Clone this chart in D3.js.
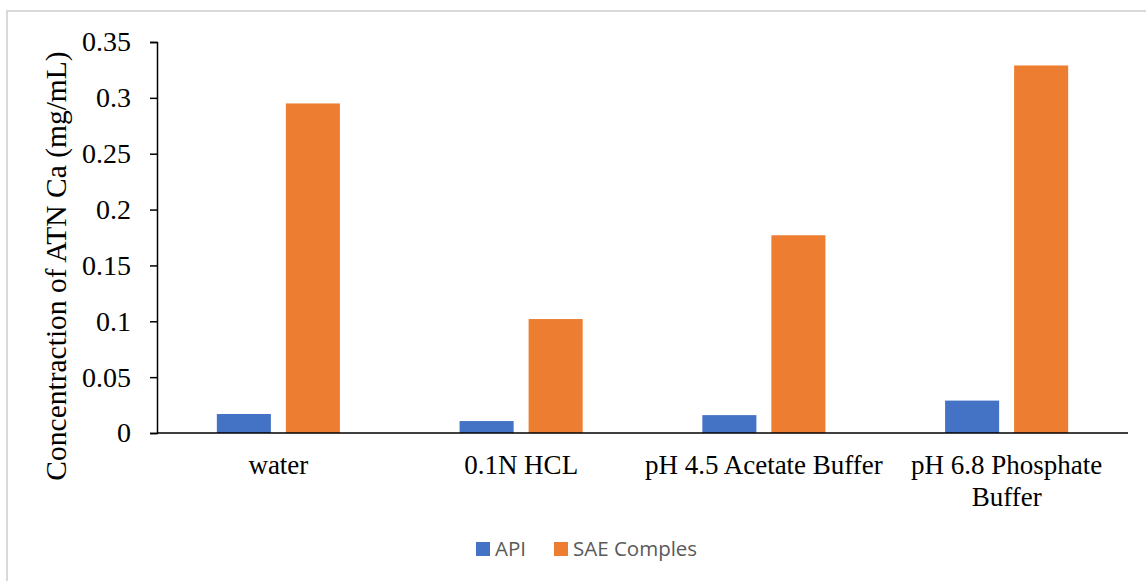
<!DOCTYPE html>
<html>
<head>
<meta charset="utf-8">
<script src="https://cdn.jsdelivr.net/npm/d3@7"></script>
<style>
  html, body { margin: 0; padding: 0; background: #fff; }
  svg { display: block; }
</style>
</head>
<body>
<svg id="chart" width="1146" height="581"></svg>
<script>
// Solubility data: concentration of ATN Ca in each medium
const categories = ["water", "0.1N HCL", "pH 4.5 Acetate Buffer", "pH 6.8 Phosphate Buffer"];
const categoryLines = [["water"], ["0.1N HCL"], ["pH 4.5 Acetate Buffer"], ["pH 6.8 Phosphate", "Buffer"]];
const seriesNames = ["API", "SAE Comples"];
const apiValues = [0.017, 0.0107, 0.016, 0.029];
const saeValues = [0.295, 0.102, 0.177, 0.329];
const yTicks = [0, 0.05, 0.1, 0.15, 0.2, 0.25, 0.3, 0.35];
const colors = ["#4472c4", "#ed7d31"];

const svg = d3.select("#chart");
const W = 1146, H = 581;
const margin = { left: 157, right: 18, top: 42, bottom: 148 };
const plotW = W - margin.left - margin.right;
const plotH = H - margin.top - margin.bottom;
const serif = "'Liberation Serif', 'Times New Roman', serif";

// Outer chart frame
svg.append("rect")
  .attr("x", 7).attr("y", 11)
  .attr("width", W + 10).attr("height", H + 10)
  .attr("fill", "#fff").attr("stroke", "#d9d9d9").attr("stroke-width", 2);

const g = svg.append("g").attr("transform", `translate(${margin.left},${margin.top})`);

const x0 = d3.scaleBand().domain(categories).range([0, plotW])
  .paddingInner(0.493).paddingOuter(0.2465);
const x1 = d3.scaleBand().domain(seriesNames).range([0, x0.bandwidth()])
  .paddingInner(0.217).paddingOuter(0);
const y = d3.scaleLinear().domain([0, 0.35]).range([plotH, 0]);

const rows = categories.map((c, i) => ({ cat: c, vals: [apiValues[i], saeValues[i]] }));

// Bars
const groups = g.selectAll(".grp").data(rows).join("g")
  .attr("class", "grp")
  .attr("transform", d => `translate(${x0(d.cat)},0)`);
groups.selectAll("rect")
  .data(d => d.vals.map((v, k) => ({ key: seriesNames[k], v, k })))
  .join("rect")
  .attr("x", d => x1(d.key))
  .attr("y", d => y(d.v))
  .attr("width", x1.bandwidth())
  .attr("height", d => plotH - y(d.v))
  .attr("fill", d => colors[d.k]);

// Y axis
const yAxis = g.append("g")
  .call(d3.axisLeft(y).tickValues(yTicks).tickSize(7).tickPadding(19)
    .tickFormat(d => d === 0 ? "0" : String(+d.toFixed(2))));
yAxis.select(".domain").attr("stroke", "#000").attr("stroke-width", 1.5);
yAxis.selectAll(".tick line").attr("stroke", "#000").attr("stroke-width", 1.5);
yAxis.selectAll(".tick text")
  .attr("font-family", serif)
  .attr("font-size", 28).attr("fill", "#000");

// X axis line
g.append("line")
  .attr("x1", 0).attr("x2", plotW)
  .attr("y1", plotH).attr("y2", plotH)
  .attr("stroke", "#000").attr("stroke-width", 1.5);

// Category labels
const catLabels = g.selectAll(".cat").data(categories).join("text")
  .attr("class", "cat")
  .attr("text-anchor", "middle")
  .attr("font-family", serif)
  .attr("font-size", 27)
  .attr("fill", "#000")
  .attr("transform", d => `translate(${x0(d) + x0.bandwidth() / 2},${plotH + 41})`);
catLabels.each(function (d, i) {
  d3.select(this).selectAll("tspan").data(categoryLines[i]).join("tspan")
    .attr("x", 0).attr("dy", (t, j) => j === 0 ? 0 : 32)
    .text(t => t);
});

// Y axis title
svg.append("text")
  .attr("transform", `translate(66,266) rotate(-90)`)
  .attr("text-anchor", "middle")
  .attr("font-family", serif)
  .attr("font-size", 29.5)
  .attr("fill", "#000")
  .text("Concentraction of ATN Ca (mg/mL)");

// Legend
const legend = svg.append("g").attr("transform", "translate(476,542)");
const legendX = [0, 78];
seriesNames.forEach((name, i) => {
  const item = legend.append("g").attr("transform", `translate(${legendX[i]},0)`);
  item.append("rect").attr("width", 14).attr("height", 14).attr("fill", colors[i]);
  item.append("text")
    .attr("x", 19).attr("y", 14)
    .attr("font-family", "'Open Sans', 'Liberation Sans', sans-serif")
    .attr("font-size", 20.5)
    .attr("fill", "#595959")
    .text(name);
});
</script>
</body>
</html>
